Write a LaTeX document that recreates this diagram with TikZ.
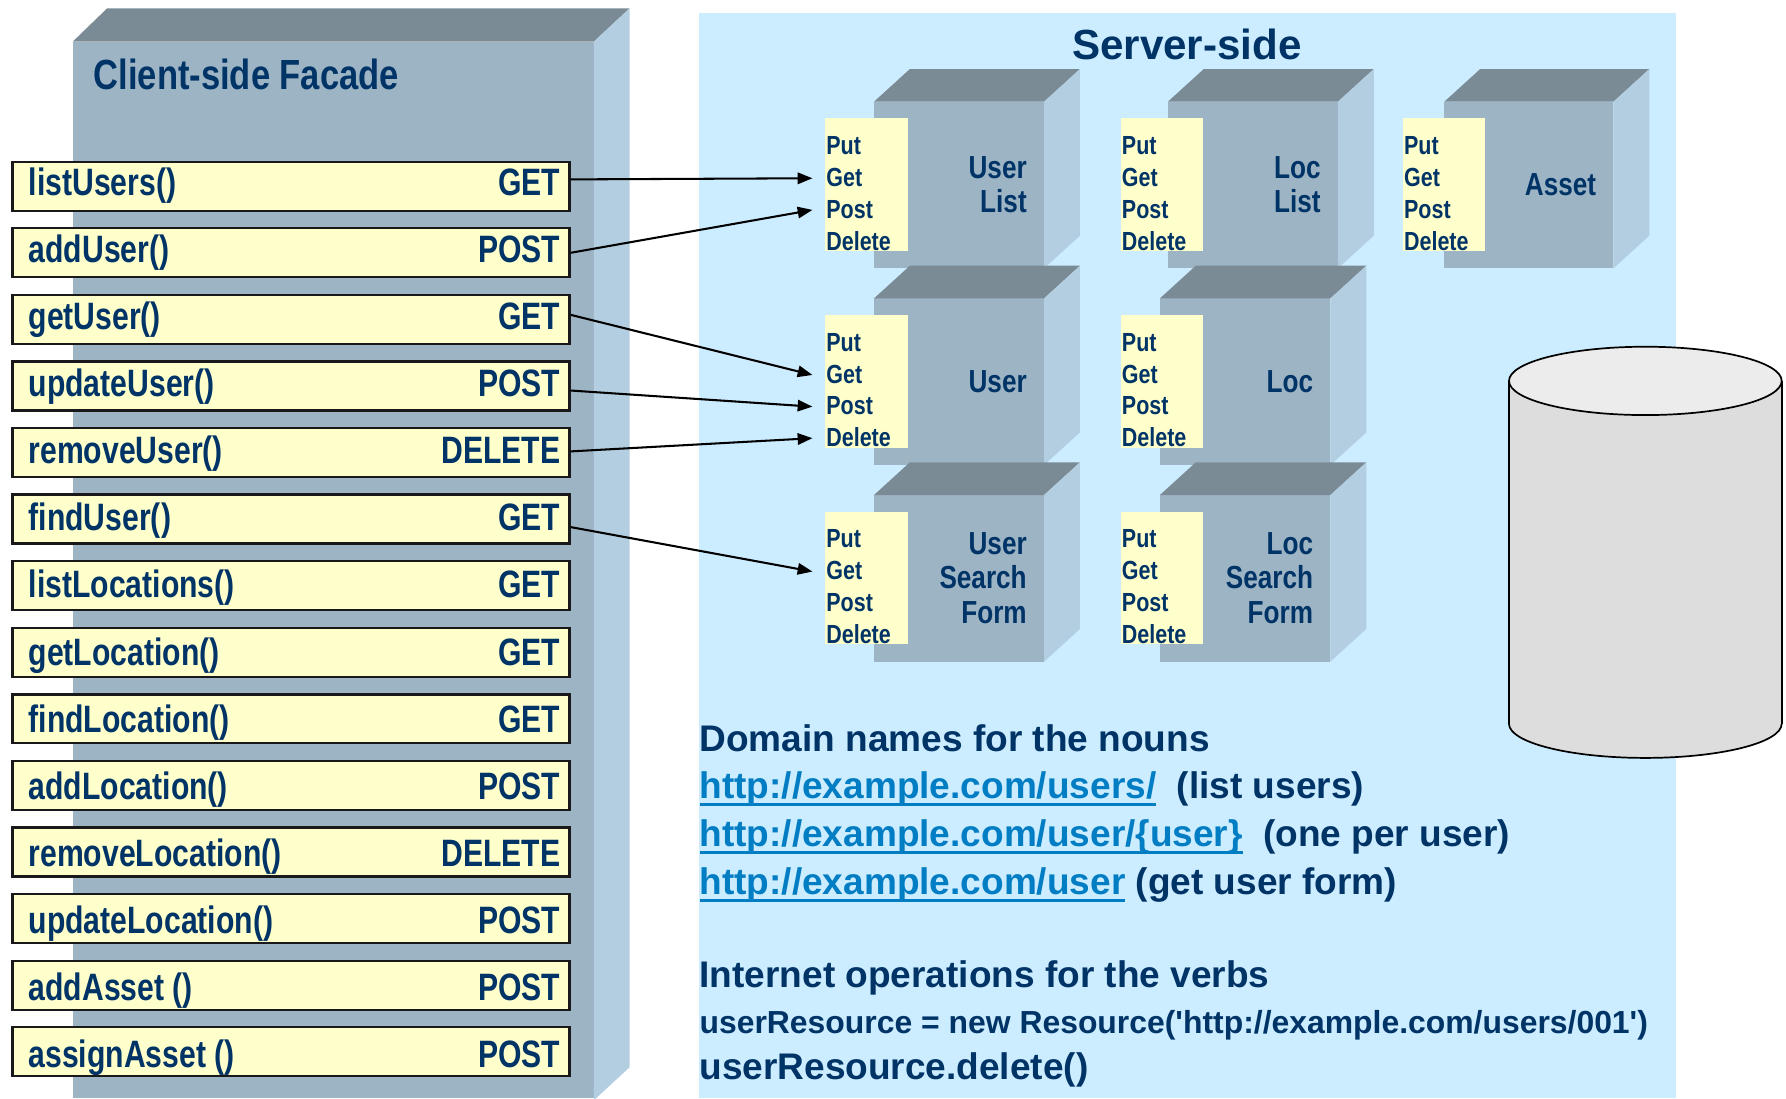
\documentclass[tikz,border=0pt]{standalone}
\usepackage{fontspec}
\setmainfont{Liberation Sans}
\newfontfamily\narrow[FakeStretch=0.82]{Liberation Sans}
\newfontfamily\mnarrow[FakeStretch=0.79]{Liberation Sans}
\usetikzlibrary{calc,arrows.meta}
\definecolor{navy}{RGB}{0,51,102}
\definecolor{frontc}{RGB}{157,180,197}
\definecolor{topc}{RGB}{123,139,150}
\definecolor{sidec}{RGB}{178,206,224}
\definecolor{servbg}{RGB}{204,236,255}
\definecolor{yel}{RGB}{255,255,204}
\definecolor{linkc}{RGB}{0,125,195}
\definecolor{cylbody}{RGB}{221,221,221}
\definecolor{cyltop}{RGB}{236,236,236}
\newcommand\linkul[1]{\setbox0=\hbox{#1}\rlap{\rule[-6.8pt]{\wd0}{2.4pt}}\box0}
\tikzset{
  methodbox/.style={draw=black!90, line width=2pt, fill=yel, minimum width=489pt, minimum height=43pt, inner sep=0pt},
  mtext/.style={font=\mnarrow\bfseries\fontsize{33.5}{38}\selectfont, text=navy, inner sep=0pt},
  yelbox/.style={fill=yel, minimum width=72.3pt, minimum height=116.5pt, inner sep=0pt},
  listtext/.style={font=\narrow\bfseries\fontsize{23}{28}\selectfont, text=navy, align=left, inner sep=0pt},
  cubelabel/.style={font=\narrow\bfseries\fontsize{28}{30}\selectfont, text=navy, align=right, inner sep=0pt},
  btext/.style={font=\bfseries\fontsize{32.5}{38}\selectfont, text=navy, inner sep=0pt},
  ctext/.style={font=\bfseries\fontsize{28}{34}\selectfont, text=navy, inner sep=0pt},
  arr/.style={line width=1.8pt, -{Triangle[length=13pt,width=10pt]}},
}
\newcommand\drawcube[6]{%
  \fill[frontc] (#2,#4) rectangle (#3,#4+146.3);
  \fill[topc] (#2,#4) -- (#2+31.5,#4-28.7) -- (#3+31.5,#4-28.7) -- (#3,#4) -- cycle;
  \fill[sidec] (#3,#4) -- (#3+31.5,#4-28.7) -- (#3+31.5,#4+117.6) -- (#3,#4+146.3) -- cycle;
  \node[yelbox, anchor=north west] (#1y) at (#5,#4+14.3) {};
  \node[listtext, anchor=south west] (#1m) at (#5+1,#4+130.7) {Put\\Get\\Post\\Delete};
  \node[cubelabel, anchor=east] (#1l) at (#3-15,#4+73) {#6};
  \coordinate (#1get) at (#5-11,#4+67.2);
  \coordinate (#1post) at (#5-11,#4+95);
  \coordinate (#1del) at (#5-11,#4+122.7);
}
\begin{document}
\begin{tikzpicture}[x=1pt,y=-1pt]
\useasboundingbox (0,0) rectangle (1568,964);
\fill[white] (0,0) rectangle (1568,964);
% client facade block
\fill[frontc] (63.8,36.6) rectangle (521.3,964);
\fill[topc] (63.8,36.6) -- (94.1,7.3) -- (552.7,7.3) -- (521.3,36.6) -- cycle;
\fill[sidec] (521.3,36.6) -- (552.7,7.3) -- (552.7,937) -- (521.3,966) -- cycle;
\node[font=\narrow\bfseries\fontsize{37}{42}\selectfont, text=navy, anchor=base west, inner sep=0pt] (ctitle) at (82,79) {Client-side Facade};
% server background
\fill[servbg] (613.4,11.7) rectangle (1471.5,964);
\node[font=\bfseries\fontsize{37}{42}\selectfont, text=navy, anchor=base, inner sep=0pt] (stitle) at (1042,52) {Server-side};
% cubes
\drawcube{ul}{767.3}{916.6}{89.3}{724.3}{User\\List}
\drawcube{ll}{1025.3}{1174.6}{89.3}{983.8}{Loc\\List}
\drawcube{as}{1268}{1416.5}{89.3}{1231.5}{Asset}
\drawcube{us}{767.3}{916.6}{262}{724.3}{User}
\drawcube{lo}{1018.3}{1168}{262}{983.8}{Loc}
\drawcube{usf}{767.3}{916.6}{434.6}{724.3}{User\\Search\\Form}
\drawcube{lsf}{1018.3}{1168}{434.6}{983.8}{Loc\\Search\\Form}
% database cylinder
\filldraw[fill=cylbody, draw=black, line width=1.5pt] (1444.5,635.4) ellipse [x radius=119.7, y radius=30];
\fill[cylbody] (1324.8,334.4) rectangle (1564.2,635.4);
\draw[line width=1.5pt] (1324.8,334.4) -- (1324.8,635.4) (1564.2,334.4) -- (1564.2,635.4);
\filldraw[fill=cyltop, draw=black, line width=1.5pt] (1444.5,334.4) ellipse [x radius=119.7, y radius=30];
% method boxes
\foreach \i/\mth/\vrb in {0/listUsers()/GET,1/addUser()/POST,2/getUser()/GET,3/updateUser()/POST,4/removeUser()/DELETE,5/findUser()/GET,6/listLocations()/GET,7/getLocation()/GET,8/findLocation()/GET,9/addLocation()/POST,10/removeLocation()/DELETE,11/updateLocation()/POST,12/addAsset ()/POST,13/assignAsset ()/POST}{
  \node[methodbox] (m\i) at (255.5,{163.5+58.45*\i}) {};
  \node[mtext, anchor=base west] (mt\i) at ($(m\i.west)+(15,{7.7+0.5*\i})$) {\mth};
  \node[mtext, anchor=base east] (mv\i) at ($(m\i.east)+(-9,{7.7+0.5*\i})$) {\vrb};
}
% connectors
\draw[arr] ($(m0.east)+(0,-6)$) -- (ulget);
\draw[arr] (m1.east) -- (ulpost);
\draw[arr] ($(m2.east)+(0,-4)$) -- (usget);
\draw[arr] ($(m3.east)+(0,4)$) -- (uspost);
\draw[arr] ($(m4.east)+(0,-1)$) -- (usdel);
\draw[arr] ($(m5.east)+(0,7)$) -- (usfget);
% bottom text
\node[btext, anchor=base west] (dn) at (614,660) {Domain names for the nouns};
\node[btext, anchor=base west] (u1) at (614,701) {{\color{linkc}\linkul{http://example.com/users/}}\ \ (list users)};
\node[btext, anchor=base west] (u2) at (614,743) {{\color{linkc}\linkul{http://example.com/user/\{user\}}}\ \ (one per user)};
\node[btext, anchor=base west] (u3) at (614,785) {{\color{linkc}\linkul{http://example.com/user}} (get user form)};
\node[btext, anchor=base west] (io) at (614,867) {Internet operations for the verbs};
\node[ctext, anchor=base west] (c1) at (614,907) {userResource = new Resource(\textquotesingle http://example.com/users/001\textquotesingle)};
\node[btext, anchor=base west] (c2) at (614,948) {userResource.delete()};
\end{tikzpicture}
\end{document}
